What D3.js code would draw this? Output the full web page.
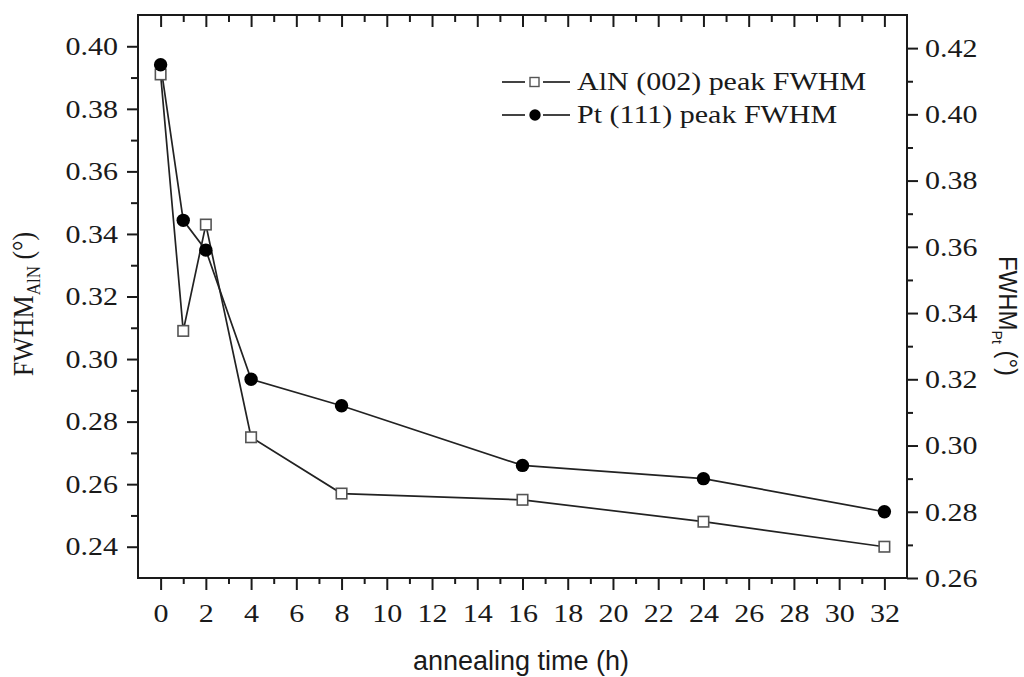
<!DOCTYPE html>
<html>
<head>
<meta charset="utf-8">
<script src="https://cdn.jsdelivr.net/npm/d3@7"></script>
<style>
  body { margin: 0; background: #fff; }
  svg { display: block; }
</style>
</head>
<body>
<svg id="chart" width="1024" height="677"></svg>
<script>
// Annealing time (h) and FWHM of the AlN (002) and Pt (111) peaks (degrees)
const hours   = [0, 1, 2, 4, 8, 16, 24, 32];
const alnFwhm = [0.391, 0.309, 0.343, 0.275, 0.257, 0.255, 0.248, 0.240];
const ptFwhm  = [0.415, 0.368, 0.359, 0.320, 0.312, 0.294, 0.290, 0.280];

const xMajorTicks     = d3.range(0, 33, 2);
const xMinorTicks     = d3.range(1, 33, 2);
const leftMajorTicks  = [0.24, 0.26, 0.28, 0.30, 0.32, 0.34, 0.36, 0.38, 0.40];
const leftMinorTicks  = [0.25, 0.27, 0.29, 0.31, 0.33, 0.35, 0.37, 0.39];
const rightMajorTicks = [0.26, 0.28, 0.30, 0.32, 0.34, 0.36, 0.38, 0.40, 0.42];
const rightMinorTicks = [0.27, 0.29, 0.31, 0.33, 0.35, 0.37, 0.39, 0.41];

const legendLabels = ["AlN (002) peak FWHM", "Pt (111) peak FWHM"];

const SERIF = "'Liberation Serif', 'Times New Roman', serif";
const SANS  = "'Liberation Sans', Arial, sans-serif";
const INK = "#1a1a1a";
const STRETCH = 1.2;   // the serif lettering is set slightly wide

const box = { left: 138, right: 907, top: 15, bottom: 578 };
const svg = d3.select("#chart");

const x  = d3.scaleLinear().domain([-1, 33]).range([box.left, box.right]);
const yL = d3.scaleLinear().domain([0.23, 0.41]).range([box.bottom, box.top]);
const yR = d3.scaleLinear().domain([0.26, 0.43]).range([box.bottom, box.top]);

function cleanAxis(g) {
  g.select(".domain").remove();
  g.selectAll(".tick line").attr("stroke", INK).attr("stroke-width", 2);
}
function serifLabels(g) {
  g.selectAll("text")
    .attr("font-family", SERIF)
    .attr("font-size", 25)
    .attr("fill", INK)
    .attr("transform", `scale(${STRETCH},1)`);
}

// bottom axis
svg.append("g").attr("transform", `translate(0,${box.bottom})`)
  .call(d3.axisBottom(x).tickValues(xMinorTicks).tickSize(6).tickFormat(""))
  .call(cleanAxis);
svg.append("g").attr("transform", `translate(0,${box.bottom})`)
  .call(d3.axisBottom(x).tickValues(xMajorTicks).tickSize(12).tickFormat(d3.format("d")))
  .call(cleanAxis)
  .call(serifLabels)
  .call(g => g.selectAll("text").attr("y", 44).attr("dy", 0));

// top axis, ticks pointing inward
svg.append("g").attr("transform", `translate(0,${box.top})`)
  .call(d3.axisTop(x).tickValues(xMinorTicks).tickSize(-7).tickFormat(""))
  .call(cleanAxis);
svg.append("g").attr("transform", `translate(0,${box.top})`)
  .call(d3.axisTop(x).tickValues(xMajorTicks).tickSize(-12).tickFormat(""))
  .call(cleanAxis);

// left axis (AlN)
svg.append("g").attr("transform", `translate(${box.left},0)`)
  .call(d3.axisLeft(yL).tickValues(leftMinorTicks).tickSize(7).tickFormat(""))
  .call(cleanAxis);
svg.append("g").attr("transform", `translate(${box.left},0)`)
  .call(d3.axisLeft(yL).tickValues(leftMajorTicks).tickSize(11).tickFormat(d3.format(".2f")))
  .call(cleanAxis)
  .call(serifLabels)
  .call(g => g.selectAll("text").attr("x", -20 / STRETCH).attr("dy", "0.33em"));

// right axis (Pt)
svg.append("g").attr("transform", `translate(${box.right},0)`)
  .call(d3.axisRight(yR).tickValues(rightMinorTicks).tickSize(6).tickFormat(""))
  .call(cleanAxis);
svg.append("g").attr("transform", `translate(${box.right},0)`)
  .call(d3.axisRight(yR).tickValues(rightMajorTicks).tickSize(11).tickFormat(d3.format(".2f")))
  .call(cleanAxis)
  .call(serifLabels)
  .call(g => g.selectAll("text").attr("x", 18 / STRETCH).attr("dy", "0.33em"));

// frame
svg.append("rect")
  .attr("x", box.left).attr("y", box.top)
  .attr("width", box.right - box.left).attr("height", box.bottom - box.top)
  .attr("fill", "none").attr("stroke", INK).attr("stroke-width", 2);

// series
const alnPts = hours.map((h, i) => [x(h), yL(alnFwhm[i])]);
const ptPts  = hours.map((h, i) => [x(h), yR(ptFwhm[i])]);
const line = d3.line();

svg.append("path").attr("d", line(alnPts))
  .attr("fill", "none").attr("stroke", "#222").attr("stroke-width", 1.7);
svg.append("path").attr("d", line(ptPts))
  .attr("fill", "none").attr("stroke", "#222").attr("stroke-width", 1.7);

const SQ = 10.5;
svg.append("g").selectAll("rect").data(alnPts).join("rect")
  .attr("x", d => d[0] - SQ / 2).attr("y", d => d[1] - SQ / 2)
  .attr("width", SQ).attr("height", SQ)
  .attr("fill", "#fff").attr("stroke", "#555").attr("stroke-width", 1.6);

svg.append("g").selectAll("circle").data(ptPts).join("circle")
  .attr("cx", d => d[0]).attr("cy", d => d[1]).attr("r", 6.7)
  .attr("fill", "#000");

// legend
const legend = svg.append("g");
const legendRows = [82, 115];
legendRows.forEach((ly, i) => {
  legend.append("line").attr("x1", 502).attr("x2", 525).attr("y1", ly).attr("y2", ly)
    .attr("stroke", "#222").attr("stroke-width", 1.7);
  legend.append("line").attr("x1", 543).attr("x2", 570).attr("y1", ly).attr("y2", ly)
    .attr("stroke", "#222").attr("stroke-width", 1.7);
  if (i === 0) {
    legend.append("rect").attr("x", 530).attr("y", ly - 4.5).attr("width", 9).attr("height", 9)
      .attr("fill", "#fff").attr("stroke", "#555").attr("stroke-width", 1.4);
  } else {
    legend.append("circle").attr("cx", 535).attr("cy", ly).attr("r", 5.7).attr("fill", "#000");
  }
  legend.append("text")
    .attr("transform", `translate(577,${ly + 8}) scale(${STRETCH},1)`)
    .attr("font-family", SERIF).attr("font-size", 25).attr("fill", INK)
    .text(legendLabels[i]);
});

// axis titles
svg.append("text")
  .attr("x", 521).attr("y", 670)
  .attr("text-anchor", "middle")
  .attr("font-family", SANS).attr("font-size", 27).attr("fill", INK)
  .text("annealing time (h)");

const leftTitle = svg.append("text")
  .attr("transform", `translate(33,304) rotate(-90) scale(1,1.15)`)
  .attr("text-anchor", "middle")
  .attr("font-family", SERIF).attr("font-size", 26).attr("fill", INK);
leftTitle.append("tspan").text("FWHM");
leftTitle.append("tspan").attr("font-size", 17).attr("dy", 6).text("AlN");
leftTitle.append("tspan").attr("dy", -6).text(" (°)");

const rightTitle = svg.append("text")
  .attr("transform", `translate(999,316) rotate(90) scale(1,1.1)`)
  .attr("text-anchor", "middle")
  .attr("font-family", SANS).attr("font-size", 24).attr("fill", INK);
rightTitle.append("tspan").text("FWHM");
rightTitle.append("tspan").attr("font-size", 14).attr("dy", 6).text("Pt");
rightTitle.append("tspan").attr("dy", -6).text(" (°)");
</script>
</body>
</html>
